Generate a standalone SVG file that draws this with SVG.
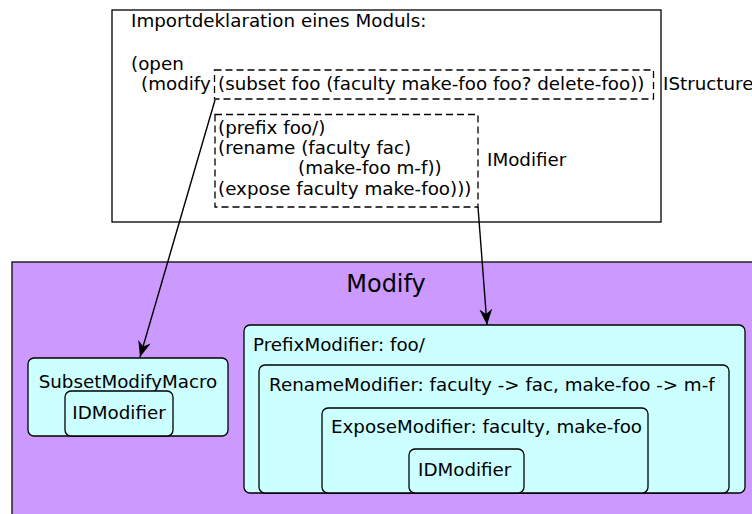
<svg xmlns="http://www.w3.org/2000/svg" width="752" height="514" viewBox="0 0 752 514">
<defs>
<marker id="arr" markerWidth="18" markerHeight="14" refX="16" refY="6.5" orient="auto" markerUnits="userSpaceOnUse">
<path d="M0,0 L16,6.5 L0,13 L5,6.5 Z" fill="#000"/>
</marker>
<style>
text{font-family:"DejaVu Sans",sans-serif;font-size:18.3px;fill:#000}
.box{fill:#fff;stroke:#000;stroke-width:1.3}
.dash{fill:none;stroke:#000;stroke-width:1.3;stroke-dasharray:7,4}
.mod{fill:#cc99ff;stroke:#222;stroke-width:1.5}
.cy{fill:#ccffff;stroke:#000;stroke-width:1.3}
.edge{fill:none;stroke:#000;stroke-width:1.4;marker-end:url(#arr)}
</style>
</defs>
<rect width="752" height="514" fill="#fff"/>
<g id="import">
<rect class="box" x="112" y="10" width="549" height="212"/>
<text x="131" y="27">Importdeklaration eines Moduls:</text>
<text x="131" y="70">(open</text>
<text x="141" y="90">(modify</text>
</g>
<g id="istructure">
<rect class="dash" x="214.5" y="70" width="439" height="29"/>
<text x="218" y="90">(subset foo (faculty make-foo foo? delete-foo))</text>
<text x="663" y="90">IStructure</text>
</g>
<g id="imodifier">
<rect class="dash" x="215" y="114.5" width="263" height="92.5"/>
<text x="218" y="134">(prefix foo/)</text>
<text x="218" y="154">(rename (faculty fac)</text>
<text x="298" y="174">(make-foo m-f))</text>
<text x="218" y="195">(expose faculty make-foo)))</text>
<text x="487" y="166">IModifier</text>
</g>
<g id="modify">
<rect class="mod" x="12" y="262" width="745" height="260"/>
<text x="386" y="292" text-anchor="middle" style="font-size:24px">Modify</text>
</g>
<g id="subset">
<rect class="cy" x="28" y="358" width="200" height="78" rx="6"/>
<text x="128" y="388" text-anchor="middle">SubsetModifyMacro</text>
<rect class="cy" x="65" y="391" width="108" height="45" rx="6"/>
<text x="119" y="419" text-anchor="middle">IDModifier</text>
</g>
<g id="prefix">
<rect class="cy" x="244" y="325" width="501" height="168" rx="6"/>
<text x="253" y="351">PrefixModifier: foo/</text>
</g>
<g id="rename">
<rect class="cy" x="259" y="365" width="470" height="128" rx="6"/>
<text x="269" y="391">RenameModifier: faculty -&gt; fac, make-foo -&gt; m-f</text>
</g>
<g id="expose">
<rect class="cy" x="322" y="408" width="326" height="85" rx="6"/>
<text x="331" y="433">ExposeModifier: faculty, make-foo</text>
</g>
<g id="idmod2">
<rect class="cy" x="409" y="449" width="115" height="44" rx="6"/>
<text x="418" y="476">IDModifier</text>
</g>
<g id="connectors">
<path class="edge" d="M215,100 L140,357"/>
<path class="edge" d="M478,207 L487,325"/>
</g>
</svg>
